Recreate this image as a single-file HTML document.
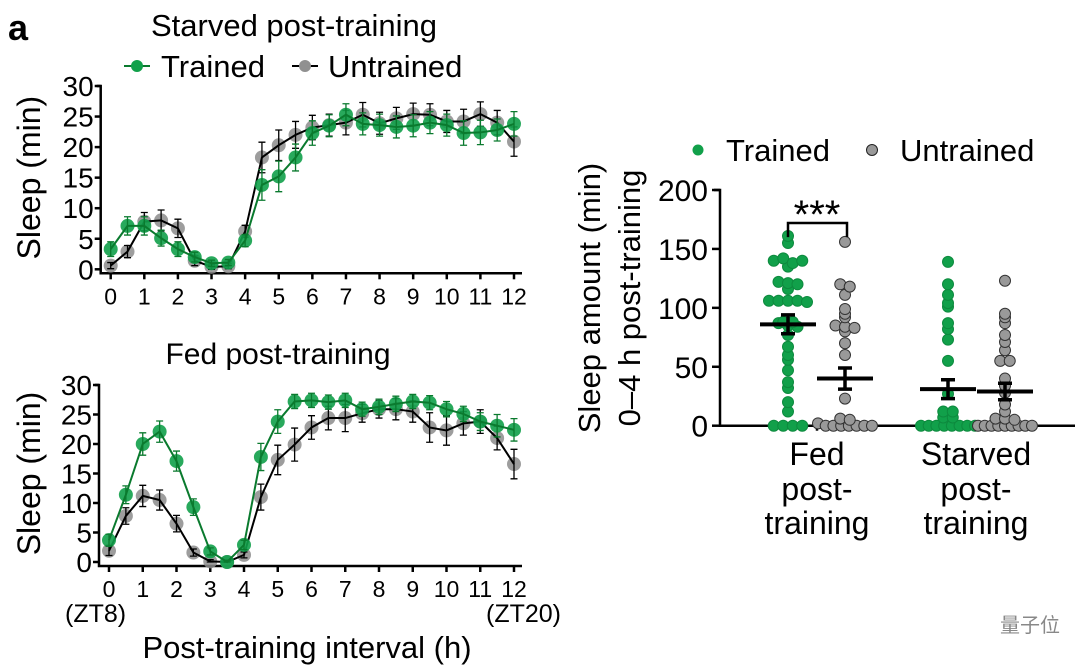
<!DOCTYPE html>
<html><head><meta charset="utf-8"><style>
body{margin:0;background:#fff;}
svg{display:block;font-family:"Liberation Sans",Arial,sans-serif;}
</style></head><body>
<svg id="fig" width="1080" height="670" viewBox="0 0 1080 670">
<text x="8" y="40" font-size="36" font-weight="bold">a</text>
<text x="294" y="36" font-size="31" text-anchor="middle">Starved post-training</text>
<g>
<line x1="124" y1="66" x2="150" y2="66" stroke="#0a7a2e" stroke-width="2"/><circle cx="137" cy="66" r="6" fill="#11a04a"/>
<text x="161" y="77" font-size="31">Trained</text>
<line x1="292" y1="66" x2="318" y2="66" stroke="#000" stroke-width="2"/><circle cx="305" cy="66" r="6" fill="#909090"/>
<text x="328" y="77" font-size="31">Untrained</text>
</g>
<text x="278" y="364" font-size="30" text-anchor="middle">Fed post-training</text>
<g id="top"></g>
<g id="bot"></g>
<text x="65" y="622" font-size="25">(ZT8)</text>
<text x="561" y="622" font-size="25" text-anchor="end">(ZT20)</text>
<text x="307" y="658" font-size="31" text-anchor="middle">Post-training interval (h)</text>
<g id="right"></g>
<g>
<circle cx="698" cy="150" r="5.5" fill="#11a04a"/>
<text x="726" y="161" font-size="31">Trained</text>
<circle cx="872" cy="150" r="5.5" fill="#999" stroke="#222" stroke-width="1"/>
<text x="900" y="161" font-size="31">Untrained</text>
</g>
<text transform="translate(600,298) rotate(-90)" font-size="31" text-anchor="middle">Sleep amount (min)</text>
<text transform="translate(640,298) rotate(-90)" font-size="31" text-anchor="middle">0–4 h post-training</text>
<text x="817" y="465" font-size="32" text-anchor="middle">Fed</text>
<text x="817" y="500" font-size="32" text-anchor="middle">post-</text>
<text x="817" y="534" font-size="32" text-anchor="middle">training</text>
<text x="976" y="465" font-size="32" text-anchor="middle">Starved</text>
<text x="976" y="500" font-size="32" text-anchor="middle">post-</text>
<text x="976" y="534" font-size="32" text-anchor="middle">training</text>
<text x="1000" y="632" font-size="20" fill="#888" font-family="'Liberation Sans','Noto Sans CJK SC',sans-serif">量子位</text>
</svg>
<script>
const hours=[0,0.5,1,1.5,2,2.5,3,3.5,4,4.5,5,5.5,6,6.5,7,7.5,8,8.5,9,9.5,10,10.5,11,11.5,12];
const yTicks=[0,5,10,15,20,25,30];
const xTicks=[0,1,2,3,4,5,6,7,8,9,10,11,12];
const starvedTrained=[3.3,7.1,7.1,5.1,3.3,2,1,1.1,4.7,13.8,15.2,18.3,22.3,23.5,25.3,23.8,23.6,23.3,23.5,24,23.6,22.3,22.4,22.8,23.8];
const starvedUntrained=[0.6,2.9,7.8,8,6.7,1.4,0.4,0.5,6.2,18.3,20.3,22,23.2,23.6,24,25.3,23.9,24.7,25.4,25.3,24.2,24.2,25.4,24,20.9];
const fedTrained=[3.7,11.4,20,22.1,17.1,9.3,1.8,0,2.9,17.8,23.8,27.2,27.4,27.1,27.4,25.9,26.3,26.8,27.2,27,25.9,25.1,23.8,23.1,22.4];
const fedUntrained=[1.9,7.8,11.2,10.5,6.5,1.6,0.1,0,1.2,11,17.3,19.9,22.8,24.4,24.4,25.2,25.9,25.9,25.5,22.8,22.3,23.5,23.8,21,16.6];
const starvedTrainedErr=[1.2,1.5,1.5,1.3,1.2,0.8,0.5,0.5,1,2.5,2.5,2.2,2,1.8,1.8,1.8,1.8,1.8,1.8,1.8,1.8,2,2,1.8,2];
const starvedUntrainedErr=[0.5,1,1.5,1.7,1.5,0.8,0.4,0.4,1,2.5,2.5,2.2,2,1.8,2,2,1.8,1.8,1.8,1.8,1.8,2,2,2,2.4];
const fedTrainedErr=[1,1.5,1.9,1.8,1.7,1.4,0.6,0.3,0.8,2.3,2,1.2,1.2,1.2,1.2,1.2,1.3,1.3,1.2,1.2,1.3,1.3,1.5,1.9,1.9];
const fedUntrainedErr=[0.8,1.4,1.8,1.7,1.4,0.6,0.3,0.3,0.5,2.2,2.5,2.8,2,2,2.3,1.5,1.5,1.8,1.8,2.5,2.5,2,2,2,2.5];
const NS="http://www.w3.org/2000/svg";
function mk(p,t,a){const e=document.createElementNS(NS,t);for(const k in a)e.setAttribute(k,a[k]);p.appendChild(e);return e;}
function lineChart(gid,x0,x1,y0,y30,tr,un,trE,unE,label){
 const g=document.getElementById(gid);
 const X=v=>x0+(x1-x0)*v/12, Y=v=>y0+(y30-y0)*v/30;
 const ax=mk(g,'path',{d:`M${x0-14} ${Y(30)}H${x0-10}V${y0+4}H${x1+8}`,stroke:'#000','stroke-width':2.5,fill:'none'});
 
 yTicks.forEach(t=>{mk(g,'line',{x1:x0-16,x2:x0-10,y1:Y(t),y2:Y(t),stroke:'#000','stroke-width':2.5});
  const tx=mk(g,'text',{x:x0-17,y:Y(t)+10,'font-size':28,'text-anchor':'end'});tx.textContent=t;
  });
 xTicks.forEach(t=>{mk(g,'line',{x1:X(t),x2:X(t),y1:y0+4,y2:y0+10,stroke:'#000','stroke-width':2.5});
  const tx=mk(g,'text',{x:X(t),y:y0+35,'font-size':23,'text-anchor':'middle'});tx.textContent=t;
  });
 const yt=mk(g,'text',{transform:`translate(40,${(y0+Y(30))/2}) rotate(-90)`,'font-size':32,'text-anchor':'middle'});
 yt.textContent='Sleep (min)';
 [[un,unE,'#000','rgba(140,140,140,0.85)','untrained'],[tr,trE,'#0a7a2e','rgba(17,160,74,0.9)','trained']].forEach(([d,e,lc,pc,n])=>{
  const s=mk(g,'g',{});
  d.forEach((v,i)=>{const c=mk(s,'circle',{cx:X(hours[i]),cy:Y(v),r:7,fill:pc});
   });
  mk(s,'polyline',{points:d.map((v,i)=>X(hours[i])+','+Y(v)).join(' '),fill:'none',stroke:lc,'stroke-width':2});
  d.forEach((v,i)=>{const x=X(hours[i]),a=Y(v+e[i]),b=Y(Math.max(0,v-e[i]));
   mk(s,'path',{d:`M${x} ${a}V${b}M${x-3.5} ${a}h7M${x-3.5} ${b}h7`,stroke:lc,'stroke-width':1.3,fill:'none'});});
 });
}
lineChart('top',110.7,514,269.3,86,starvedTrained,starvedUntrained,starvedTrainedErr,starvedUntrainedErr,'starved');
lineChart('bot',109,514,562,385,fedTrained,fedUntrained,fedTrainedErr,fedUntrainedErr,'fed');

const groups=['fed-trained','fed-untrained','starved-trained','starved-untrained'];
const fedTrainedPts=[161,155,140,142,138,135,140,122,116,121,120,106,106,106,106,105,88,87,88,85,84,77,67,60,56,47,37,32,20,12,0,0,0,0];
const fedUntrainedPts=[156,120,118,111,99,95,92,85,84,83,80,70,60,23,6,2,0,0,0,0,0,0,0,5];
const starvedTrainedPts=[139,120,111,104,101,87,82,73,55,27,12,12,7,0,0,0,0,0,0,0,0,7];
const starvedUntrainedPts=[123,95,92,87,77,71,64,55,55,40,34,28,18,12,6,6,0,0,0,0,0,0,0,5,0,0];
const means=[86,40,31,29];
const sems=[8,9,8,7];
const rg=document.getElementById('right');
const RX0=720,RX1=1075,RY0=425.7,RY200=190;
const RY=v=>RY0+(RY200-RY0)*v/200;
const centers=[788,845,948,1005];
mk(rg,'path',{d:`M${RX0-6} ${RY(200)}H${RX0}V${RY0}H${RX1}`,stroke:'#000','stroke-width':2.5,fill:'none'});
[0,50,100,150,200].forEach(t=>{mk(rg,'line',{x1:RX0-8,x2:RX0,y1:RY(t),y2:RY(t),stroke:'#000','stroke-width':2.5});
 const tx=mk(rg,'text',{x:RX0-12,y:RY(t)+11,'font-size':30,'text-anchor':'end'});tx.textContent=t;
 });
[817,986].forEach(x=>mk(rg,'line',{x1:x,x2:x,y1:RY0,y2:RY0+5,stroke:'#000','stroke-width':2.5}));
[fedTrainedPts,fedUntrainedPts,starvedTrainedPts,starvedUntrainedPts].forEach((pts,gi)=>{
 const s=mk(rg,'g',{});
 const bins={};pts.forEach(v=>{const k=Math.round(v/5);(bins[k]=bins[k]||[]).push(v);});
 const tr=gi%2==0;
 Object.values(bins).forEach(arr=>{const n=arr.length;const step=n>1?Math.min(9.5,54/(n-1)):0;arr.forEach((v,j)=>{
  const c=mk(s,'circle',{cx:centers[gi]+(j-(n-1)/2)*step,cy:RY(v),r:5.5,fill:tr?'#11a04a':'#999',stroke:tr?'#0d8a3e':'#333','stroke-width':1});
  });});
 const cx=centers[gi];
 const m=mk(rg,'g',{});
 mk(m,'line',{x1:cx-28,x2:cx+28,y1:RY(means[gi]),y2:RY(means[gi]),stroke:'#000','stroke-width':4});
 const a=RY(means[gi]+sems[gi]),b=RY(means[gi]-sems[gi]);
 mk(m,'path',{d:`M${cx} ${a}V${b}M${cx-7} ${a}h14M${cx-7} ${b}h14`,stroke:'#000','stroke-width':3.5,fill:'none'});
});
mk(rg,'path',{d:`M788 ${RY(160)}V${RY(172)}H847V${RY(160)}`,stroke:'#000','stroke-width':2.5,fill:'none'});
const st=mk(rg,'text',{x:817,y:RY(172)+5,'font-size':40,'text-anchor':'middle'});st.textContent='***';

</script>
</body></html>
